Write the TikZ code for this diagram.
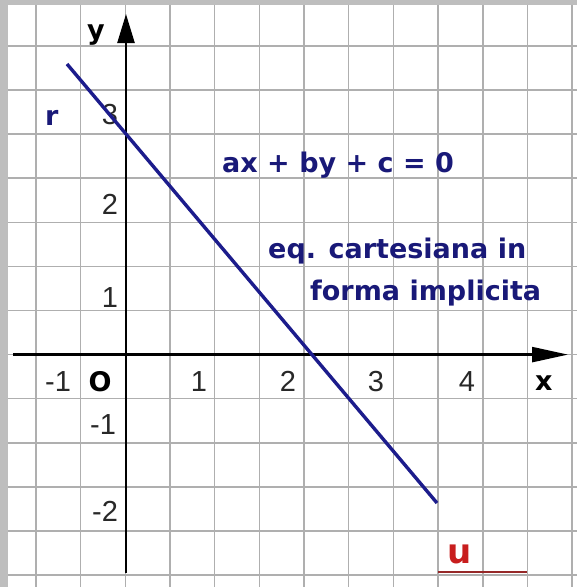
\documentclass[tikz,border=0pt]{standalone}
\usepackage{fontspec}
\setmainfont{Liberation Sans}
\newfontfamily\boldfont{DejaVu Sans}[BoldFont=* Bold]
\usetikzlibrary{arrows.meta}
\definecolor{gridgray}{RGB}{175,175,175}
\definecolor{bordergray}{RGB}{190,190,190}
\definecolor{navy}{RGB}{28,28,140}
\definecolor{textblue}{RGB}{25,25,120}
\definecolor{ured}{RGB}{200,30,30}
\definecolor{uline}{RGB}{150,40,40}
\definecolor{ticktext}{RGB}{40,40,40}
\tikzset{
  gridline/.style={draw=gridgray, line width=1.6pt},
  axisline/.style={draw=black, line width=2.4pt},
  rline/.style={draw=navy, line width=3.4pt},
  ticklab/.style={inner sep=0pt, anchor=base, text=ticktext, font=\fontsize{29}{29}\selectfont},
  boldlab/.style={inner sep=0pt, anchor=base west, font=\boldfont\bfseries\fontsize{27}{27}\selectfont},
}
\begin{document}
\begin{tikzpicture}[x=1pt,y=-1pt]
\useasboundingbox (0,0) rectangle (577,587);
\fill[white] (0,0) rectangle (577,587);
% grid
\foreach \k in {0,...,12} {
  \draw[gridline] ({36+44.67*\k},5) -- ({36+44.67*\k},587);
  \draw[gridline] (8,{46+44.08*\k}) -- (577,{46+44.08*\k});
}
% border
\fill[bordergray] (0,0) rectangle (8,587);
\fill[bordergray] (0,0) rectangle (577,5);
% axes
\coordinate (ybot) at (126,573);
\coordinate (ytop) at (126,14);
\coordinate (xleft) at (13,354.6);
\coordinate (xright) at (568,354.6);
\draw[axisline, -{Triangle[length=29pt,width=17pt]}] (ybot) -- (ytop);
\draw[axisline, -{Triangle[length=36pt,width=15pt]}] (xleft) -- (xright);
% axis labels
\node[boldlab, text=black] (ylab) at (87,39) {\bfseries y};
\node[boldlab, text=black] (xlab) at (535,390) {\bfseries x};
\node[boldlab, text=black, anchor=base] (olab) at (100,391) {\bfseries O};
% tick labels x
\node[ticklab] (tm1) at (58,391) {-1};
\node[ticklab] (t1) at (199,391) {1};
\node[ticklab] (t2) at (288,391) {2};
\node[ticklab] (t3) at (376,391) {3};
\node[ticklab] (t4) at (467,391) {4};
% tick labels y
\node[ticklab] (s3) at (110,124) {3};
\node[ticklab] (s2) at (110,214) {2};
\node[ticklab] (s1) at (110,307) {1};
\node[ticklab] (sm1) at (103,434) {-1};
\node[ticklab] (sm2) at (105,521) {-2};
% line r
\coordinate (rstart) at (67,64);
\coordinate (rend) at (437,503);
\draw[rline] (rstart) -- (rend);
\node[boldlab, text=textblue] (rlab) at (45,125) {\bfseries r};
% equations
\node[boldlab, text=textblue] (eq) at (222,172) {\bfseries ax + by + c = 0};
\node[boldlab, text=textblue] (eq2) at (268,258) {\bfseries eq. cartesiana in};
\node[boldlab, text=textblue] (eq3) at (310,300) {\bfseries forma implicita};
% u
\node[inner sep=0pt, anchor=base west, text=ured, font=\boldfont\bfseries\fontsize{34}{34}\selectfont] (ulab) at (447,563) {u};
\coordinate (ua) at (438,572);
\coordinate (ub) at (527,572);
\draw[draw=uline, line width=2pt] (ua) -- (ub);
\end{tikzpicture}
\end{document}
